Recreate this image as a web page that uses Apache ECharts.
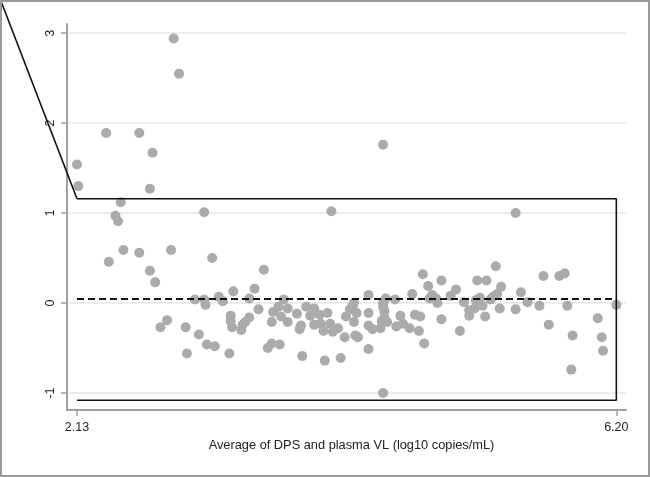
<!DOCTYPE html>
<html>
<head>
<meta charset="utf-8">
<script src="https://cdn.jsdelivr.net/npm/echarts@6/dist/echarts.min.js"></script>
<style>
    html, body { margin: 0; padding: 0; background: #fff; }
    #chart { width: 650px; height: 477px; }
</style>
</head>
<body>
<div id="chart"></div>
<script>
// average of DPS and plasma VL (x) and their difference (y)
var avgVL = [
    2.13, 2.14, 2.35, 2.37, 2.42, 2.44, 2.46, 2.48, 2.60, 2.60,
    2.68, 2.68, 2.70, 2.72, 2.76, 2.81, 2.84, 2.86, 2.90, 2.95,
    2.96, 3.02, 3.05, 3.09, 3.09, 3.10, 3.11, 3.15, 3.17, 3.20,
    3.23, 3.28, 3.29, 3.29, 3.30, 3.31, 3.37, 3.38, 3.40, 3.43,
    3.43, 3.47, 3.50, 3.54, 3.57, 3.60, 3.66, 3.60, 3.61, 3.65,
    3.69, 3.67, 3.72, 3.72, 3.79, 3.82, 3.81, 3.83, 3.86, 3.89,
    3.92, 3.96, 4.02, 3.92, 3.97, 3.99, 4.00, 4.04, 4.05, 4.06,
    4.10, 4.12, 4.15, 4.16, 4.19, 4.21, 4.22, 4.24, 4.22, 4.23,
    4.25, 4.33, 4.33, 4.33, 4.33, 4.36, 4.42, 4.44, 4.44, 4.46,
    4.44, 4.44, 4.45, 4.45, 4.43, 4.47, 4.53, 4.54, 4.57, 4.59,
    4.64, 4.66, 4.68, 4.72, 4.71, 4.75, 4.74, 4.78, 4.79, 4.81,
    4.84, 4.85, 4.88, 4.88, 4.95, 4.99, 5.02, 5.05, 5.09, 5.09,
    5.13, 5.14, 5.17, 5.19, 5.15, 5.22, 5.21, 5.25, 5.27, 5.30,
    5.29, 5.33, 5.32, 5.44, 5.44, 5.48, 5.53, 5.62, 5.65, 5.69,
    5.77, 5.81, 5.83, 5.86, 5.87, 6.06, 6.09, 6.10, 6.20
];
var diffVL = [
    1.54, 1.30, 1.89, 0.46, 0.97, 0.91, 1.12, 0.59, 1.89, 0.56,
    1.27, 0.36, 1.67, 0.23, -0.27, -0.19, 0.59, 2.94, 2.55, -0.27,
    -0.56, 0.04, -0.35, 1.01, 0.04, -0.02, -0.46, 0.50, -0.48, 0.07,
    0.02, -0.56, -0.14, -0.20, -0.27, 0.13, -0.30, -0.24, -0.21, -0.16,
    0.05, 0.16, -0.07, 0.37, -0.50, -0.45, -0.46, -0.21, -0.10, -0.04,
    0.04, -0.15, -0.06, -0.21, -0.12, -0.25, -0.29, -0.59, -0.04, -0.14,
    -0.06, -0.13, -0.11, -0.24, -0.23, -0.31, -0.64, -0.23, 1.02, -0.32,
    -0.28, -0.61, -0.38, -0.15, -0.07, -0.03, 0.00, -0.11, -0.21, -0.36,
    -0.38, 0.09, -0.11, -0.51, -0.25, -0.29, -0.28, -1.00, 1.76, 0.05,
    0.00, -0.04, -0.09, -0.16, -0.20, -0.21, 0.04, -0.26, -0.14, -0.23,
    -0.28, 0.10, -0.13, -0.15, -0.31, -0.45, 0.32, 0.19, 0.05, 0.09,
    0.05, 0.00, 0.25, -0.18, 0.08, 0.15, -0.31, 0.01, -0.08, -0.14,
    -0.06, 0.03, 0.06, -0.03, 0.25, 0.25, -0.15, 0.04, 0.07, 0.10,
    0.41, 0.18, -0.06, 1.00, -0.07, 0.12, 0.01, -0.03, 0.30, -0.24,
    0.30, 0.33, -0.03, -0.74, -0.36, -0.17, -0.38, -0.53, -0.02
];

// mean difference and limits of agreement (first point runs off the plot, top left)
var meanDiff = 0.045;
var limitX = [1.55, 2.13, 6.20, 6.20, 2.13];
var limitY = [3.38, 1.16, 1.16, -1.08, -1.08];
var meanX = [2.13, 6.20];

var xTicks = [2.13, 6.20];
var yTicks = [-1, 0, 1, 2, 3];
var xTitle = 'Average of DPS and plasma VL (log10 copies/mL)';

var font = 'Liberation Sans, Arial, sans-serif';
var axisGray = '#a0a0a0';
var lineBlack = '#111';

var points = avgVL.map(function (x, i) { return [x, diffVL[i]]; });
var limitData = limitX.map(function (x, i) { return [x, limitY[i]]; });
var meanData = meanX.map(function (x) { return [x, meanDiff]; });

var frame = {
    id: 'frame',
    type: 'rect',
    z: 100,
    silent: true,
    shape: { x: 1, y: 1, width: 648, height: 475 },
    style: { fill: null, stroke: '#9a9a9a', lineWidth: 2 }
};

var chart = echarts.init(document.getElementById('chart'));
var option = {
    animation: false,
    backgroundColor: '#fff',
    grid: { left: 67, right: 24, top: 24, bottom: 67 },
    xAxis: {
        type: 'value',
        min: 2.0545,
        max: 6.273,
        axisLine: { show: true, onZero: false, lineStyle: { color: axisGray, width: 2 } },
        axisTick: { show: true, customValues: xTicks, length: 6, lineStyle: { color: axisGray, width: 1.5 } },
        axisLabel: {
            customValues: xTicks,
            formatter: function (v) { return v.toFixed(2); },
            margin: 11, color: '#222', fontFamily: font, fontSize: 12.5
        },
        splitLine: { show: false },
        name: xTitle,
        nameLocation: 'middle',
        nameGap: 26,
        nameTextStyle: { color: '#222', fontFamily: font, fontSize: 12.8, padding: [0, 0, 0, 10] }
    },
    yAxis: {
        type: 'value',
        min: -1.189,
        max: 3.102,
        axisLine: { show: true, onZero: false, lineStyle: { color: axisGray, width: 2 } },
        axisTick: { show: true, customValues: yTicks, length: 6, lineStyle: { color: axisGray, width: 1.5 } },
        axisLabel: {
            customValues: yTicks,
            rotate: 90,
            margin: 10, color: '#222', fontFamily: font, fontSize: 12.5
        },
        splitLine: { show: false }
    },
    graphic: [frame],
    series: [
        {
            // horizontal grid lines at the y ticks
            type: 'line',
            data: [],
            silent: true,
            markLine: {
                z: 0,
                silent: true,
                symbol: 'none',
                label: { show: false },
                lineStyle: { color: '#e6e6e6', width: 1.5, type: 'solid' },
                data: yTicks.map(function (v) { return { yAxis: v }; })
            }
        },
        {
            type: 'scatter',
            data: points,
            symbolSize: 10,
            itemStyle: { color: '#ababab', opacity: 1 },
            z: 2
        },
        {
            type: 'line',
            data: limitData.slice(1),
            symbol: 'none',
            lineStyle: { color: lineBlack, width: 1.6 },
            z: 3
        },
        {
            type: 'line',
            data: meanData,
            symbol: 'none',
            lineStyle: { color: lineBlack, width: 2, type: [7, 4] },
            z: 3
        }
    ]
};
chart.setOption(option);

// the sloped part of the upper limit leaves the plot area, so draw it unclipped
var slopePts = limitData.slice(0, 2).map(function (p) {
    return chart.convertToPixel({ gridIndex: 0 }, p);
});
chart.setOption({
    graphic: [frame, {
        id: 'slope',
        type: 'polyline',
        z: 50,
        silent: true,
        shape: { points: slopePts },
        style: { stroke: lineBlack, lineWidth: 1.6, fill: null }
    }]
});
</script>
</body>
</html>
